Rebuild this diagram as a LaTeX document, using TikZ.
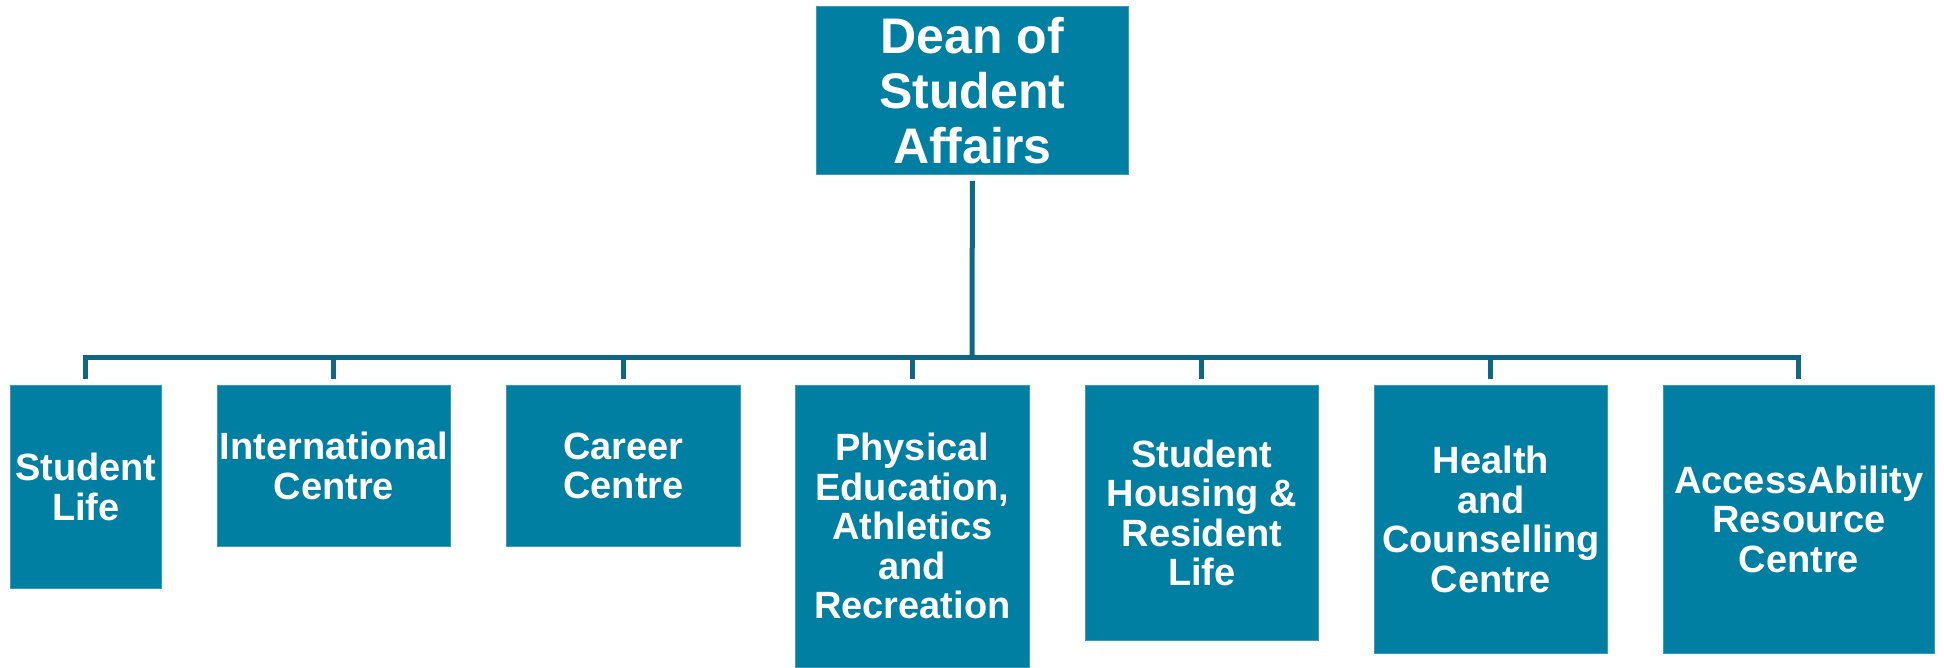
\documentclass[tikz,border=0pt]{standalone}
\usepackage{fontspec}
\setmainfont{Liberation Sans}
\definecolor{boxfill}{HTML}{007FA3}
\definecolor{boxedge}{HTML}{3E9BB8}
\definecolor{linecol}{HTML}{0F6784}
\begin{document}
\begin{tikzpicture}[x=1pt,y=-1pt,
  unitbox/.style={rectangle, fill=boxfill, draw=boxedge, line width=0.8pt,
    text=white, font=\bfseries\fontsize{38}{39.5}\selectfont, align=center,
    inner sep=0pt, anchor=north west},
  deanbox/.style={unitbox, font=\bfseries\fontsize{50}{55}\selectfont},
  conn/.style={draw=linecol, line width=5pt}]
\useasboundingbox (0,0) rectangle (1944,668);
\node[deanbox, minimum width=312pt, minimum height=168pt] (dean) at (816,6) {Dean of\\Student\\Affairs};
\node[unitbox, minimum width=151pt, minimum height=203pt] (sl) at (10,385) {Student\\Life};
\node[unitbox, minimum width=233pt, minimum height=161pt] (ic) at (217,385) {International\\Centre};
\node[unitbox, minimum width=234pt, minimum height=161pt] (cc) at (506,385) {Career\\Centre};
\node[unitbox, minimum width=234pt, minimum height=282pt] (pe) at (795,385) {Physical\\Education,\\Athletics\\and\\Recreation};
\node[unitbox, minimum width=233pt, minimum height=255pt] (sh) at (1085,385) {Student\\Housing \&\\Resident\\Life};
\node[unitbox, minimum width=233pt, minimum height=268pt] (hc) at (1374,385) {Health\\and\\Counselling\\Centre};
\node[unitbox, minimum width=271pt, minimum height=268pt] (ar) at (1663,385) {AccessAbility\\Resource\\Centre};
\coordinate (bus) at (972,357);
\draw[conn, shorten <=6pt] (dean.south) -- (bus);
\foreach \c in {sl,ic,cc,pe,sh,hc,ar}{
  \draw[conn, shorten >=6pt] (bus) -| (\c.north);
}
\end{tikzpicture}
\end{document}
